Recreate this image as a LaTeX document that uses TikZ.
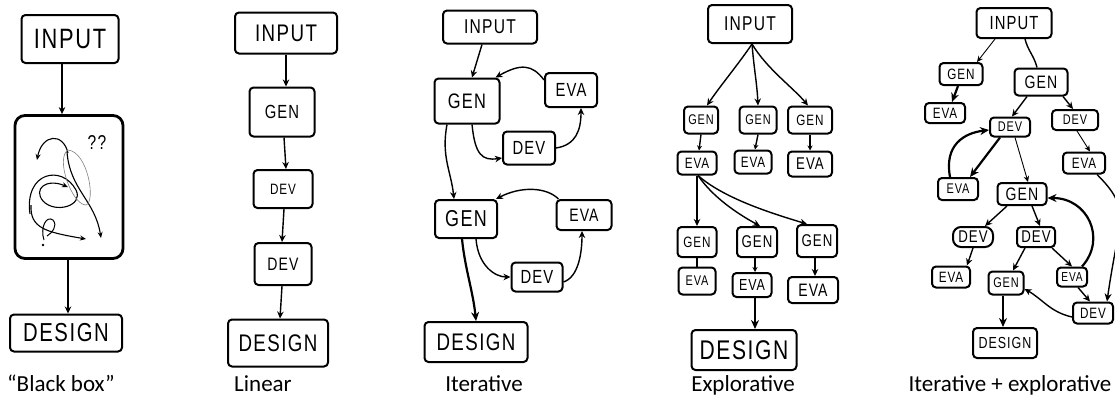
\documentclass[tikz,border=0pt]{standalone}
\usepackage{fontspec}
\setmainfont{Carlito}
\newfontfamily\hand[FakeStretch=0.78, LetterSpace=6]{Liberation Sans}
\usetikzlibrary{arrows.meta}
\tikzset{
  bx/.style n args={3}{draw, line width=2pt, rounded corners=4pt, inner sep=0pt,
    minimum width=#1pt, minimum height=#2pt, font=\hand\fontsize{#3}{#3}\selectfont},
  arr/.style={line width=1.4pt, -{Stealth[length=7pt,width=6.5pt]}},
  sm/.style={line width=1.4pt, -{Stealth[length=5pt,width=5pt]}},
  tk/.style={line width=2.2pt, -{Stealth[length=9pt,width=8pt]}},
  th/.style={line width=0.9pt, -{Stealth[length=6pt,width=5.5pt]}},
  lbl/.style={font=\fontsize{23}{23}\selectfont, anchor=base, inner sep=0pt},
}
\begin{document}
\begin{tikzpicture}[x=1pt,y=-1pt]
\useasboundingbox (0,0) rectangle (1115,410);

% ---------- Panel 1: Black box ----------
\node[bx={97}{48}{28}] (in1) at (70,39) {INPUT};
\node[draw, line width=2.8pt, rounded corners=10pt, minimum width=108pt, minimum height=143pt] (bb) at (69,187) {};
\node[bx={112}{37}{26}] (de1) at (66,333) {DESIGN};
\draw[arr] ([xshift=-8pt]in1.south) -- ([xshift=-7pt]bb.north);
\draw[arr] ([xshift=-1pt]bb.south) -- ([xshift=2pt]de1.north);
\begin{scope}[line width=1.1pt, -{Stealth[length=6pt,width=5pt]}]
  \draw (68,153) .. controls (63,132) and (42,134) .. (37,160);
  \draw (30,214) .. controls (24,172) and (62,164) .. (76,190) .. controls (84,206) and (55,214) .. (43,201) .. controls (33,189) and (46,178) .. (68,187);
  \draw (67,152) .. controls (70,190) and (95,200) .. (101,238);
  \draw (31,205) .. controls (30,228) and (45,232) .. (86,239);
\end{scope}
\draw[line width=0.6pt, gray] (68,150) .. controls (55,158) and (72,205) .. (86,205) .. controls (96,202) and (88,152) .. (68,150);
\draw[line width=1pt] (44,240) .. controls (40,228) and (46,215) .. (53,220) .. controls (58,226) and (52,233) .. (47,236);
\fill (43,245) circle (1.3pt);
\node[font=\hand\fontsize{20}{20}\selectfont] (qq) at (97,143) {??};

% ---------- Panel 2: Linear ----------
\node[bx={102}{41}{24}] (in2) at (286,33) {INPUT};
\node[bx={65}{49}{19}] (g2) at (282,112) {GEN};
\node[bx={59}{38}{15}] (d2a) at (283,189) {DEV};
\node[bx={57}{42}{18}] (d2b) at (283,264) {DEV};
\node[bx={100}{47}{24}] (de2) at (278,343) {DESIGN};
\draw[arr] (in2.south) -- ([xshift=4pt]g2.north);
\draw[arr] ([xshift=2pt]g2.south) -- ([xshift=3pt]d2a.north);
\draw[arr] ([xshift=1pt]d2a.south) -- ([xshift=-1pt]d2b.north);
\draw[arr] ([xshift=-1pt]d2b.south) -- ([xshift=2pt]de2.north);

% ---------- Panel 3: Iterative ----------
\node[bx={94}{33}{20}] (in3) at (490,27) {INPUT};
\node[bx={65}{45}{21}] (g3a) at (467,101) {GEN};
\node[bx={52}{34}{19}] (e3a) at (571,90) {EVA};
\node[bx={52}{33}{19}] (d3a) at (529,148) {DEV};
\node[bx={62}{38}{23}] (g3b) at (466,219) {GEN};
\node[bx={55}{30}{18}] (e3b) at (584,215) {EVA};
\node[bx={51}{29}{19}] (d3b) at (537,277) {DEV};
\node[bx={103}{40}{24}] (de3) at (476,342) {DESIGN};
\draw[arr] ([xshift=-8pt]in3.south) -- ([xshift=5pt]g3a.north);
\draw[arr] ([xshift=5pt]g3a.south) .. controls +(3,30) and +(-20,3) .. ([yshift=-10pt]d3a.west);
\draw[arr] (d3a.east) .. controls +(20,-3) and +(0,22) .. ([xshift=10pt]e3a.south);
\draw[arr] ([yshift=-8pt]e3a.north west) .. controls +(-12,-16) and +(25,-14) .. ([xshift=-5pt]g3a.north east);
\draw[arr] ([xshift=-20pt]g3a.south) .. controls +(-6,32) and +(-3,-28) .. ([xshift=-12pt]g3b.north);
\draw[arr] ([xshift=10pt]g3b.south) .. controls +(2,26) and +(-16,0) .. (d3b.west);
\draw[arr] ([yshift=-5pt]d3b.east) .. controls +(15,-5) and +(0,22) .. ([xshift=-2pt]e3b.south);
\draw[arr] ([xshift=3pt]e3b.north west) .. controls +(-12,-12) and +(25,-13) .. ([xshift=-2pt]g3b.north east);
\draw[tk] ([xshift=-4pt]g3b.south) .. controls +(3,30) and +(-3,-30) .. (de3.north);

% ---------- Panel 4: Explorative ----------
\node[bx={84}{38}{20}] (in4) at (750,24) {INPUT};
\node[bx={34}{27}{14}] (ga) at (701,120) {GEN};
\node[bx={39}{23}{15}] (ea) at (697,163) {EVA};
\node[bx={37}{27}{14}] (gb) at (758,120) {GEN};
\node[bx={37}{23}{15}] (eb) at (753,162) {EVA};
\node[bx={44}{27}{15}] (gc) at (810,120) {GEN};
\node[bx={44}{25}{17}] (ec) at (810,164) {EVA};
\node[bx={39}{30}{15}] (gd) at (697,242) {GEN};
\node[bx={37}{27}{14}] (ed) at (697,281) {EVA};
\node[bx={40}{30}{17}] (ge) at (757,242) {GEN};
\node[bx={39}{24}{16}] (ee) at (752,285) {EVA};
\node[bx={40}{32}{17}] (gf) at (817,241) {GEN};
\node[bx={50}{26}{18}] (ef) at (813,290) {EVA};
\node[bx={105}{40}{27}] (de4) at (744,350) {DESIGN};
\draw[arr] ([xshift=2pt]in4.south) .. controls +(-12,18) and +(12,-18) .. ([xshift=6pt]ga.north);
\draw[arr] ([xshift=2pt]in4.south) .. controls +(2,25) and +(-1,-22) .. (gb.north);
\draw[arr] ([xshift=2pt]in4.south) .. controls +(15,25) and +(-15,-18) .. ([xshift=-2pt]gc.north);
\draw[sm] (ga.south) -- ([xshift=2pt]ea.north);
\draw[sm] (gb.south) -- ([xshift=2pt]eb.north);
\draw[sm] (gc.south) -- (ec.north);
\draw[arr] (ea.south) -- (gd.north);
\draw[arr] ([xshift=1pt]ea.south) .. controls +(15,22) and +(-22,-12) .. ([xshift=3pt]ge.north);
\draw[arr] ([xshift=1pt]ea.south) .. controls +(25,22) and +(-40,-12) .. ([xshift=-10pt]gf.north);
\draw[line width=1.4pt] (gd.south) -- (ed.north);
\draw[sm] ([xshift=-2pt]ge.south) -- ([xshift=3pt]ee.north);
\draw[arr] ([xshift=-2pt]gf.south) -- ([xshift=2pt]ef.north);
\draw[tk] ([xshift=3pt]ee.south) -- ([xshift=11pt]de4.north);

% ---------- Panel 5: Iterative + explorative ----------
\node[bx={75}{30}{19}] (in5) at (1014,23) {INPUT};
\node[bx={43}{22}{15}] (gL) at (961,74) {GEN};
\node[bx={40}{20}{15}] (eL) at (945,113) {EVA};
\node[bx={53}{27}{18}] (gR) at (1041,82) {GEN};
\node[bx={46}{20}{14}] (dR) at (1075,120) {DEV};
\node[bx={42}{21}{15}] (eR) at (1084,163) {EVA};
\node[bx={40}{19}{14}] (dM) at (1010,127) {DEV};
\node[bx={40}{22}{14}] (eM) at (958,189) {EVA};
\node[bx={49}{22}{18}] (gC) at (1022,194) {GEN};
\node[bx={40}{20}{17}, rounded corners=8pt] (dCL) at (973,237) {DEV};
\node[bx={38}{21}{15}] (eCL) at (951,277) {EVA};
\node[bx={38}{20}{17}] (dCR) at (1036,237) {DEV};
\node[bx={30}{19}{13}] (eLo) at (1072,277) {EVA};
\node[bx={40}{21}{15}] (dB) at (1093,313) {DEV};
\node[bx={35}{23}{14}] (gLo) at (1006,283) {GEN};
\node[bx={64}{30}{16}] (de5) at (1005,343) {DESIGN};
\draw[th] ([xshift=-19pt]in5.south) -- ([xshift=16pt]gL.north);
\draw[tk] ([xshift=-3pt]gL.south) -- ([xshift=7pt]eL.north);
\draw[line width=1.4pt] ([xshift=11pt]in5.south) .. controls +(3,12) and +(-3,-12) .. ([xshift=-4pt]gR.north);
\draw[arr] ([xshift=22pt]gR.south) -- ([xshift=-2pt]dR.north);
\draw[th] ([xshift=2pt]dR.south) -- ([xshift=6pt]eR.north);
\draw[line width=1.4pt, -{Stealth[length=8pt,width=7pt]}] ([xshift=13pt]eR.south) .. controls +(35,35) and +(12,-85) .. ([xshift=14pt]dB.north);
\draw[arr] ([xshift=-14pt]gR.south) -- ([xshift=2pt]dM.north);
\draw[tk] ([xshift=-10pt]dM.south) -- ([xshift=12pt]eM.north);
\draw[tk] ([xshift=-8pt]eM.north) .. controls +(-6,-32) and +(-25,3) .. ([yshift=-3pt]dM.west);
\draw[th] ([xshift=5pt]dM.south) -- ([xshift=6pt]gC.north);
\draw[arr] ([xshift=-15pt]gC.south) -- ([xshift=12pt]dCL.north);
\draw[arr] (dCL.south) -- ([xshift=16pt]eCL.north);
\draw[arr] ([xshift=10pt]gC.south) -- ([xshift=4pt]dCR.north);
\draw[arr] ([xshift=-11pt]dCR.south) -- ([xshift=7pt]gLo.north);
\draw[arr] ([xshift=16pt]dCR.south) -- (eLo.north);
\draw[tk] ([xshift=10pt]eLo.north) .. controls +(25,-28) and +(40,0) .. ([yshift=-4pt]gC.east);
\draw[arr] ([xshift=6pt]eLo.south) -- ([xshift=-3pt]dB.north);
\draw[arr] ([yshift=-4pt]dB.west) .. controls +(-22,-5) and +(18,10) .. ([yshift=-6pt]gLo.east);
\draw[tk] ([xshift=-3pt]gLo.south) -- ([xshift=-2pt]de5.north);

% ---------- Captions ----------
\node[lbl] (t1) at (61,391) {“Black box”};
\node[lbl] (t2) at (263,391) {Linear};
\node[lbl] (t3) at (484,391) {Iterative};
\node[lbl] (t4) at (743,391) {Explorative};
\node[lbl] (t5) at (1010,391) {Iterative + explorative};
\end{tikzpicture}
\end{document}
